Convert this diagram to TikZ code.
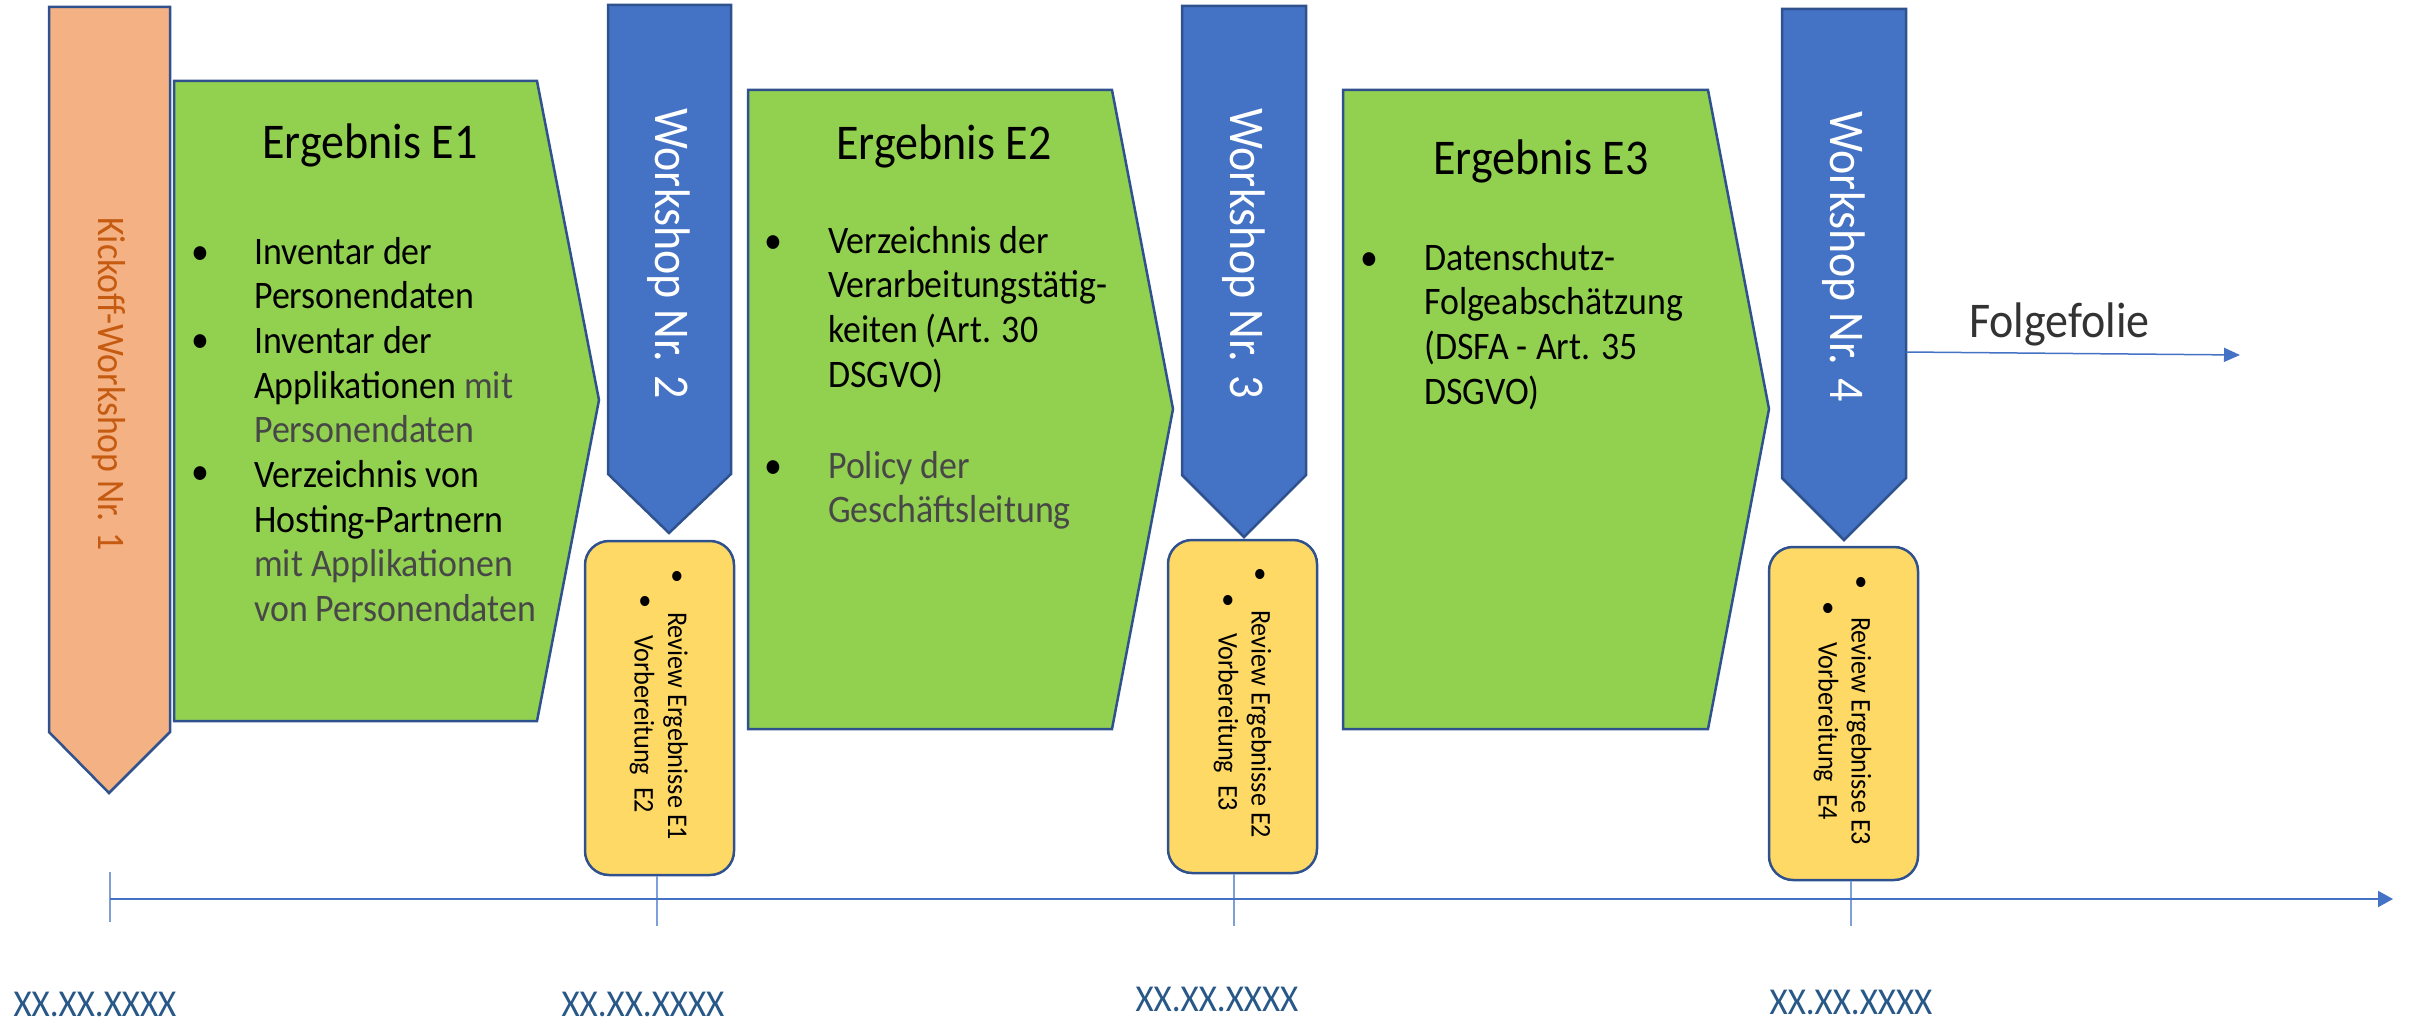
\documentclass[tikz,border=0pt]{standalone}
\usepackage{fontspec}
\setmainfont{Carlito}[FakeStretch=0.92]
\usetikzlibrary{arrows.meta}
\definecolor{bord}{HTML}{2F528F}
\definecolor{orafill}{HTML}{F4B183}
\definecolor{grnfill}{HTML}{92D050}
\definecolor{blufill}{HTML}{4472C4}
\definecolor{yelfill}{HTML}{FFD966}
\definecolor{kicktext}{HTML}{C55A11}
\definecolor{datecol}{RGB}{40,88,135}
\definecolor{tickcol}{HTML}{7F9FD9}
\newcommand\fsz[2]{\fontsize{#1}{#2}\selectfont}
\newcommand\lighttext{\color{black!72}}
\newcommand\textblock[1]{\parbox[t]{600pt}{\raggedright #1}}
\begin{document}
\begin{tikzpicture}[x=1pt,y=-1pt,line join=miter,
  shapeline/.style={draw=bord,line width=2.5pt},
  kickbox/.style={shapeline,fill=orafill},
  grnbox/.style={shapeline,fill=grnfill},
  blubox/.style={shapeline,fill=blufill},
  yelbox/.style={shapeline,fill=yelfill,rounded corners=24pt,minimum width=149pt,inner sep=0pt},
  titletxt/.style={font=\fsz{50}{56},anchor=base,inner sep=0pt},
  bodytxt/.style={font=\fsz{39}{44.7},anchor=base west,inner sep=0pt},
  bulletmark/.style={font=\fsz{39}{44.7},anchor=base,inner sep=0pt},
  wstxt/.style={font=\fsz{50}{56},text=white,rotate=-90,inner sep=0pt},
  ytxt/.style={font=\fsz{28.5}{33},rotate=-90,anchor=west,inner sep=0pt},
  ybullet/.style={font=\fsz{28.5}{33},inner sep=0pt},
  datetxt/.style={font=\fsz{38}{44},text=datecol,anchor=base,inner sep=0pt},
  tline/.style={draw=blufill,line width=2pt,-{Triangle[length=15pt,width=16pt]}},
  tickline/.style={draw=tickcol,line width=1.5pt},
  flowline/.style={draw=blufill,line width=1.5pt,-{Triangle[length=16pt,width=14pt]}}]
\useasboundingbox (0,0) rectangle (2415,1022);

% Kickoff arrow
\draw[kickbox] (49,7) -- (170,7) -- (170,732) -- (109,793) -- (49,732) -- cycle;
\node[font=\fsz{39}{44},text=kicktext,rotate=-90,inner sep=0pt] (kick) at (109,384) {Kickoff-Workshop Nr. 1};

% Green result arrows
\draw[grnbox] (174,81) -- (537,81) -- (599,400) -- (537,721) -- (174,721) -- cycle;
\draw[grnbox] (748,90) -- (1112,90) -- (1173,409) -- (1112,729) -- (748,729) -- cycle;
\draw[grnbox] (1343,90) -- (1708,90) -- (1769,409) -- (1708,729) -- (1343,729) -- cycle;

% Blue workshop arrows
\draw[blubox] (608,5) -- (731,5) -- (731,474) -- (669,533) -- (608,474) -- cycle;
\draw[blubox] (1182,6) -- (1306,6) -- (1306,475) -- (1244,537) -- (1182,475) -- cycle;
\draw[blubox] (1782,9) -- (1906,9) -- (1906,478) -- (1844,540) -- (1782,478) -- cycle;
\node[wstxt] (ws2) at (669,254) {Workshop Nr. 2};
\node[wstxt] (ws3) at (1244,254) {Workshop Nr. 3};
\node[wstxt] (ws4) at (1844,257) {Workshop Nr. 4};

% Titles
\node[titletxt] (t1) at (370,158) {Ergebnis E1};
\node[titletxt] (t2) at (944,160) {Ergebnis E2};
\node[titletxt] (t3) at (1541,175) {Ergebnis E3};

% E1 content
\node[bulletmark] (b11) at (200,264) {\textbullet};
\node[bulletmark] (b12) at (200,352) {\textbullet};
\node[bulletmark] (b13) at (200,484) {\textbullet};
\node[bodytxt] (e1) at (254,264) {\textblock{Inventar der\\Personendaten\\Inventar der\\Applikationen {\lighttext mit}\\{\lighttext Personendaten}\\Verzeichnis von\\Hosting-Partnern\\{\lighttext mit Applikationen}\\{\lighttext von Personendaten}}};

% E2 content
\node[bulletmark] (b21) at (773,253) {\textbullet};
\node[bulletmark] (b22) at (773,478) {\textbullet};
\node[bodytxt] (e2a) at (828,253) {\textblock{Verzeichnis der\\Verarbeitungstätig-\\keiten (Art. 30\\DSGVO)}};
\node[bodytxt,text=black!72] (e2b) at (828,478) {\textblock{Policy der\\Geschäftsleitung}};

% E3 content
\node[bulletmark] (b31) at (1369,270) {\textbullet};
\node[bodytxt] (e3) at (1424,270) {\textblock{Datenschutz-\\Folgeabschätzung\\(DSFA - Art. 35\\DSGVO)}};

% Yellow review boxes
\node[yelbox,minimum height=334pt] (y1) at (659.5,708) {};
\node[yelbox,minimum height=333pt] (y2) at (1242.5,706.5) {};
\node[yelbox,minimum height=333pt] (y3) at (1843.5,713.5) {};

\node[ybullet] (y1b1) at (677,578) {\textbullet};
\node[ybullet] (y1b2) at (645,603) {\textbullet};
\node[ytxt] (y1l1) at (675.5,612) {Review Ergebnisse E1};
\node[ytxt] (y1l2) at (642,635) {Vorbereitung\ \ E2};

\node[ybullet] (y2b1) at (1260,576) {\textbullet};
\node[ybullet] (y2b2) at (1228,602) {\textbullet};
\node[ytxt] (y2l1) at (1259,610) {Review Ergebnisse E2};
\node[ytxt] (y2l2) at (1226,633) {Vorbereitung\ \ E3};

\node[ybullet] (y3b1) at (1861,584) {\textbullet};
\node[ybullet] (y3b2) at (1828,610) {\textbullet};
\node[ytxt] (y3l1) at (1859,617) {Review Ergebnisse E3};
\node[ytxt] (y3l2) at (1826,642) {Vorbereitung\ \ E4};

% Folgefolie
\node[font=\fsz{50}{56},anchor=base west,inner sep=0pt,text=black!80] (ff) at (1969,337) {Folgefolie};
\coordinate (ffs) at (1906,352);
\coordinate (ffe) at (2240,355);
\draw[flowline] (ffs) -- (ffe);

% Timeline
\coordinate (tl0) at (110,899);
\coordinate (tl1) at (2393,899);
\coordinate (k0a) at (110,872);
\coordinate (k0b) at (110,922);
\coordinate (k1) at (657,926);
\coordinate (k2) at (1234,926);
\coordinate (k3) at (1851,926);
\draw[tickline] (k0a) -- (k0b);
\draw[tickline] (y1.south -| k1) -- (k1);
\draw[tickline] (y2.south -| k2) -- (k2);
\draw[tickline] (y3.south -| k3) -- (k3);
\draw[tline] (tl0) -- (tl1);

% Dates
\node[datetxt] (d0) at (95,1016) {XX.XX.XXXX};
\node[datetxt] (d1) at (643,1016) {XX.XX.XXXX};
\node[datetxt] (d2) at (1217,1011) {XX.XX.XXXX};
\node[datetxt] (d3) at (1851,1014) {XX.XX.XXXX};
\end{tikzpicture}
\end{document}
